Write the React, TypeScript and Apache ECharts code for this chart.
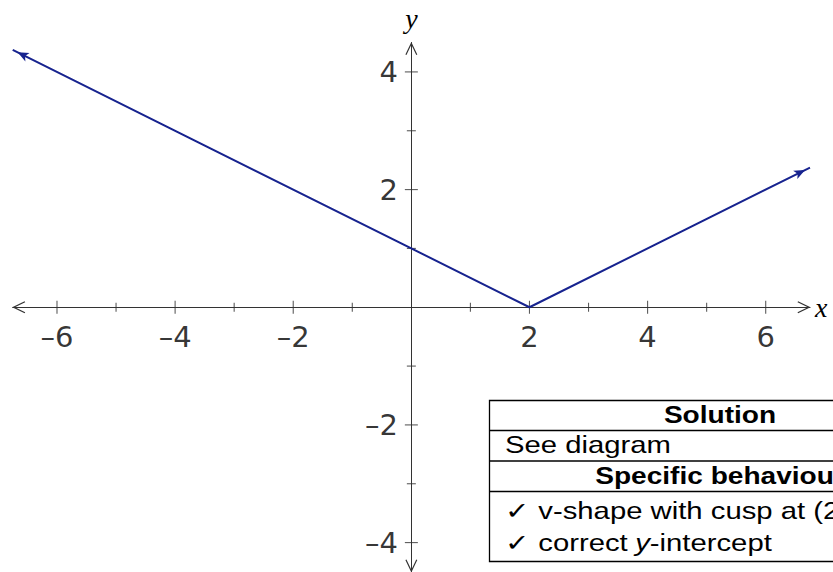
import { useEffect, useRef } from 'react';
import * as echarts from 'echarts';

// y = |x - 2| / 2, drawn between the plot edges
const curveX = [-6.75, 2, 6.75];
const curveY = [4.375, 0, 2.375];

const xMajorTicks = [-6, -4, -2, 2, 4, 6];
const xMinorTicks = [-5, -3, -1, 1, 3, 5];
const yMajorTicks = [-4, -2, 2, 4];
const yMinorTicks = [-3, -1, 1, 3];

const solutionTitle = 'Solution';
const solutionText = 'See diagram';
const behaviourTitle = 'Specific behaviour';
const behaviourLines = ['\u2713 v-shape with cusp at (2, 0)', '\u2713 correct {i|y}-intercept'];

const AXIS = '#333333';
const CURVE = '#17238f';
const SANS = 'Liberation Sans, Arial, Helvetica, sans-serif';
const LABEL_SANS = 'DejaVu Sans, Liberation Sans, sans-serif';
const SERIF = 'Liberation Serif, Times New Roman, serif';

// open chevron arrowhead for the axis ends (tip at the top)
const CHEVRON = 'path://M5,0 L10,10.4 L9.1,10.9 L5,2.3 L0.9,10.9 L0,10.4 Z';

const fmt = (v: number) => (v < 0 ? '\u2013' + Math.abs(v) : String(v));

// tick marks crossing the axes, with optional value labels
function tickSeries(values: number[], vertical: boolean, size: number, labelled: boolean) {
  return {
    type: 'scatter',
    silent: true,
    z: 3,
    symbol: 'rect',
    symbolSize: vertical ? [1.1, size] : [size, 1.1],
    itemStyle: { color: AXIS },
    label: {
      show: labelled,
      position: vertical ? 'bottom' : 'left',
      distance: vertical ? 9 : 7,
      fontFamily: LABEL_SANS,
      fontSize: 29,
      color: '#000',
      formatter: (p: any) => fmt(vertical ? p.value[0] : p.value[1]),
    },
    data: values.map((v) => (vertical ? [v, 0] : [0, v])),
  };
}

export default function App() {
  const ref = useRef<HTMLDivElement>(null);

  useEffect(() => {
    const el = ref.current;
    if (!el) return;
    const chart = echarts.init(el, null, { renderer: 'svg' });

    const tableLeft = 489.5;
    const tableRight = 980;
    const rowLines = [400.5, 430.5, 461, 491.5, 561.5];
    const textStyle = (extra: any) => ({
      fontFamily: SANS,
      fontSize: 24,
      fill: '#000',
      verticalAlign: 'middle',
      ...extra,
    });

    const axisCommon = {
      type: 'value',
      splitLine: { show: false },
      axisTick: { show: false },
      axisLabel: { show: false },
      axisLine: {
        onZero: true,
        lineStyle: { color: AXIS, width: 1 },
        symbol: [CHEVRON, CHEVRON],
        symbolSize: [12, 13],
        symbolOffset: [6, -6],
      },
      nameLocation: 'end',
      nameTextStyle: { fontFamily: SERIF, fontStyle: 'italic', fontSize: 28, color: '#000' },
    };

    const option: any = {
      animation: false,
      grid: {
        left: 12.7,
        right: 23,
        top: 42.5,
        bottom: 0,
        containLabel: false,
        outerBoundsMode: 'none',
      },
      xAxis: { ...axisCommon, min: -6.75, max: 6.75, name: 'x', nameGap: 5 },
      yAxis: { ...axisCommon, min: -4.5, max: 4.5, name: 'y', nameGap: 10 },
      series: [
        tickSeries(xMajorTicks, true, 13, true),
        tickSeries(xMinorTicks, true, 9, false),
        tickSeries(yMajorTicks, false, 13, true),
        tickSeries(yMinorTicks, false, 9, false),
        {
          id: 'curve',
          type: 'line',
          silent: true,
          z: 5,
          symbol: 'arrow',
          symbolSize: [7, 11],
          lineStyle: { color: CURVE, width: 2 },
          itemStyle: { color: CURVE },
          data: curveX.map((x, i) => [x, curveY[i]]),
        },
      ],
      graphic: {
        elements: [
          {
            type: 'rect',
            z: 100,
            shape: { x: tableLeft, y: rowLines[0], width: tableRight - tableLeft, height: rowLines[4] - rowLines[0] },
            style: { fill: '#fff', stroke: '#000', lineWidth: 1.3 },
          },
          ...rowLines.slice(1, 4).map((y) => ({
            type: 'line',
            z: 101,
            shape: { x1: tableLeft, y1: y, x2: tableRight, y2: y },
            style: { stroke: '#000', lineWidth: 1.3 },
          })),
          {
            type: 'text',
            z: 102,
            x: 720,
            y: 415,
            scaleX: 1.17,
            style: textStyle({ text: solutionTitle, fontWeight: 'bold', align: 'center' }),
          },
          {
            type: 'text',
            z: 102,
            x: 505,
            y: 445,
            scaleX: 1.22,
            style: textStyle({ text: solutionText, align: 'left' }),
          },
          {
            type: 'text',
            z: 102,
            x: 720,
            y: 476,
            scaleX: 1.17,
            style: textStyle({ text: behaviourTitle, fontWeight: 'bold', align: 'center' }),
          },
          ...behaviourLines.map((t, i) => ({
            type: 'text',
            z: 102,
            x: 505,
            y: 511 + i * 32,
            scaleX: 1.22,
            style: textStyle({
              text: t,
              align: 'left',
              rich: {
                i: { fontFamily: SANS, fontSize: 24, fontStyle: 'italic', fill: '#000' },
              },
            }),
          })),
        ],
      },
    };

    chart.setOption(option);

    // orient the arrowheads at both ends of the curve along its segments
    const px = curveX.map((x, i) => chart.convertToPixel({ gridIndex: 0 }, [x, curveY[i]]) as number[]);
    const arrowAt = (i: number, j: number) => {
      const dx = px[i][0] - px[j][0];
      const dy = px[i][1] - px[j][1];
      const len = Math.hypot(dx, dy) || 1;
      return {
        value: [curveX[i], curveY[i]],
        symbol: 'arrow',
        symbolSize: [7, 11],
        symbolRotate: (Math.atan2(-dy, dx) * 180) / Math.PI - 90,
        symbolOffset: [(-dx / len) * 5.5, (-dy / len) * 5.5],
      };
    };
    const last = curveX.length - 1;
    chart.setOption({
      series: [
        {
          id: 'curve',
          data: curveX.map((x, i) => {
            if (i === 0) return arrowAt(0, 1);
            if (i === last) return arrowAt(last, last - 1);
            return { value: [x, curveY[i]], symbol: 'none' };
          }),
        },
      ],
    });

    return () => chart.dispose();
  }, []);

  return (
    <div
      ref={ref}
      style={{ position: 'absolute', left: 0, top: 0, width: 833, height: 572, background: '#fff' }}
    />
  );
}
